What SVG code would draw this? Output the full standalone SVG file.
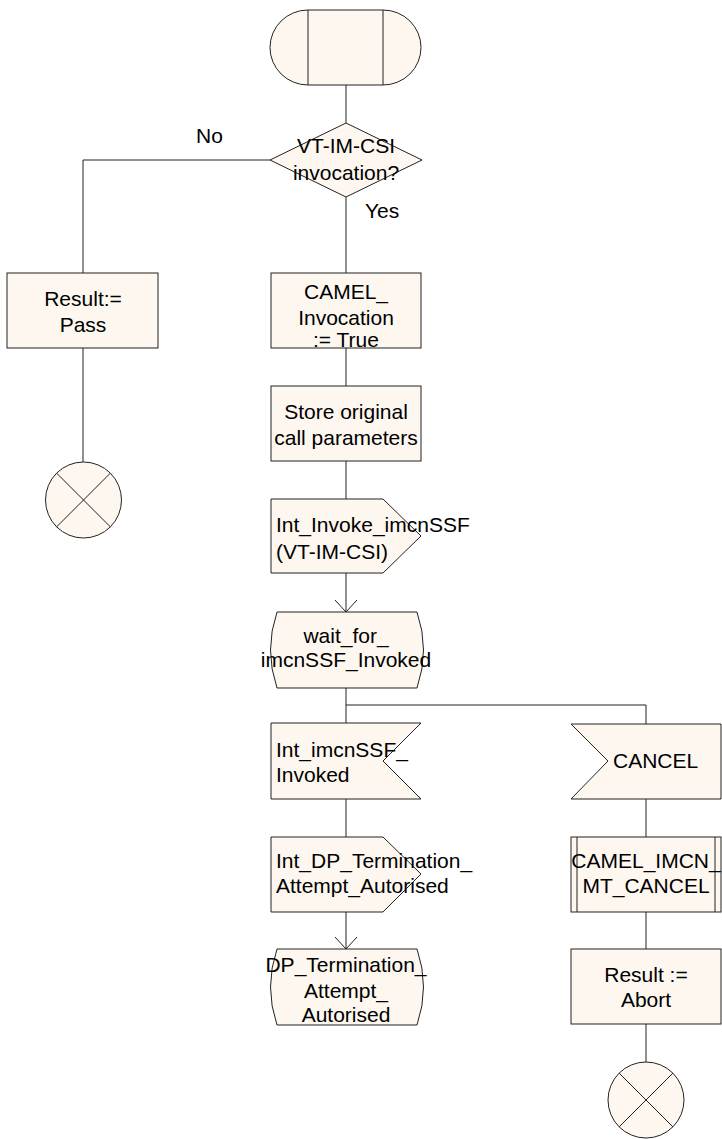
<svg xmlns="http://www.w3.org/2000/svg" width="722" height="1139" viewBox="0 0 722 1139">
<style>
.s{fill:#fdf7f0;stroke:#222;stroke-width:1}
.l{fill:none;stroke:#222;stroke-width:1}
text{font-family:"Liberation Sans",Arial,sans-serif;font-size:21px;fill:#000}
.c{text-anchor:middle}
</style>
<rect width="722" height="1139" fill="#fff"/>
<g id="connectors">
<line class="l" x1="346" y1="85" x2="346" y2="123"/>
<polyline class="l" points="270,160 83,160 83,273"/>
<line class="l" x1="83" y1="348" x2="83" y2="462"/>
<line class="l" x1="346" y1="197" x2="346" y2="273"/>
<line class="l" x1="346" y1="348" x2="346" y2="386"/>
<line class="l" x1="346" y1="461" x2="346" y2="499"/>
<line class="l" x1="346" y1="573" x2="346" y2="612"/>
<polyline class="l" points="335,600 346,612 357,600"/>
<line class="l" x1="346" y1="688" x2="346" y2="723"/>
<polyline class="l" points="346,705 646,705 646,724"/>
<line class="l" x1="346" y1="799" x2="346" y2="837"/>
<line class="l" x1="346" y1="912" x2="346" y2="949"/>
<polyline class="l" points="335,937 346,949 357,937"/>
<line class="l" x1="646" y1="799" x2="646" y2="837"/>
<line class="l" x1="646" y1="912" x2="646" y2="949"/>
<line class="l" x1="646" y1="1024" x2="646" y2="1062"/>
<text x="196" y="143">No</text>
<text x="365" y="218">Yes</text>
</g>
<g id="start">
<path class="s" d="M308,10 H383 A38,37.5 0 0 1 383,85 H308 A38,37.5 0 0 1 308,10 Z"/>
<line class="l" x1="308" y1="10" x2="308" y2="85"/>
<line class="l" x1="383" y1="10" x2="383" y2="85"/>
</g>
<g id="decision">
<polygon class="s" points="346,123 422,160 346,197 270,160"/>
<text class="c" x="346" y="153">VT-IM-CSI</text>
<text class="c" x="346" y="180">invocation?</text>
</g>
<g id="result_pass">
<rect class="s" x="7" y="273" width="151" height="75"/>
<text class="c" x="83" y="306">Result:=</text>
<text class="c" x="83" y="332">Pass</text>
</g>
<g id="stop_left">
<circle class="s" cx="83.5" cy="500" r="38"/>
<line class="l" x1="56.6" y1="473.1" x2="110.4" y2="526.9"/>
<line class="l" x1="110.4" y1="473.1" x2="56.6" y2="526.9"/>
</g>
<g id="camel_invocation">
<rect class="s" x="271" y="273" width="150" height="75"/>
<text class="c" x="346" y="299">CAMEL_</text>
<text class="c" x="346" y="325">Invocation</text>
<text class="c" x="346" y="347">:= True</text>
</g>
<g id="store">
<rect class="s" x="271" y="386" width="150" height="75"/>
<text class="c" x="346" y="419">Store original</text>
<text class="c" x="346" y="445">call parameters</text>
</g>
<g id="out_invoke">
<polygon class="s" points="271,499 383,499 421,536 383,573 271,573"/>
<text x="276" y="532">Int_Invoke_imcnSSF</text>
<text x="276" y="559">(VT-IM-CSI)</text>
</g>
<g id="state_wait">
<path class="s" d="M277,612 H417 Q430,650 417,688 H277 Q264,650 277,612 Z"/>
<text class="c" x="346" y="643">wait_for_</text>
<text class="c" x="346" y="667">imcnSSF_Invoked</text>
</g>
<g id="in_invoked">
<polygon class="s" points="271,723 421,723 383,761 421,799 271,799"/>
<text x="276" y="757">Int_imcnSSF_</text>
<text x="276" y="782">Invoked</text>
</g>
<g id="out_dp">
<polygon class="s" points="271,837 383,837 421,874 383,912 271,912"/>
<text x="276" y="868">Int_DP_Termination_</text>
<text x="276" y="893">Attempt_Autorised</text>
</g>
<g id="state_dp">
<path class="s" d="M277,949 H417 Q430,987 417,1025 H277 Q264,987 277,949 Z"/>
<text class="c" x="346" y="972">DP_Termination_</text>
<text class="c" x="346" y="998">Attempt_</text>
<text class="c" x="346" y="1022">Autorised</text>
</g>
<g id="in_cancel">
<polygon class="s" points="571,724 721,724 721,799 571,799 608,761"/>
<text x="613" y="768">CANCEL</text>
</g>
<g id="proc_cancel">
<rect class="s" x="571" y="837" width="150" height="75"/>
<line class="l" x1="577" y1="837" x2="577" y2="912"/>
<line class="l" x1="715" y1="837" x2="715" y2="912"/>
<text class="c" x="646" y="868">CAMEL_IMCN_</text>
<text class="c" x="646" y="893">MT_CANCEL</text>
</g>
<g id="result_abort">
<rect class="s" x="571" y="949" width="150" height="75"/>
<text class="c" x="646" y="982">Result :=</text>
<text class="c" x="646" y="1007">Abort</text>
</g>
<g id="stop_right">
<circle class="s" cx="646" cy="1100" r="38"/>
<line class="l" x1="619.1" y1="1073.1" x2="672.9" y2="1126.9"/>
<line class="l" x1="672.9" y1="1073.1" x2="619.1" y2="1126.9"/>
</g>
</svg>
